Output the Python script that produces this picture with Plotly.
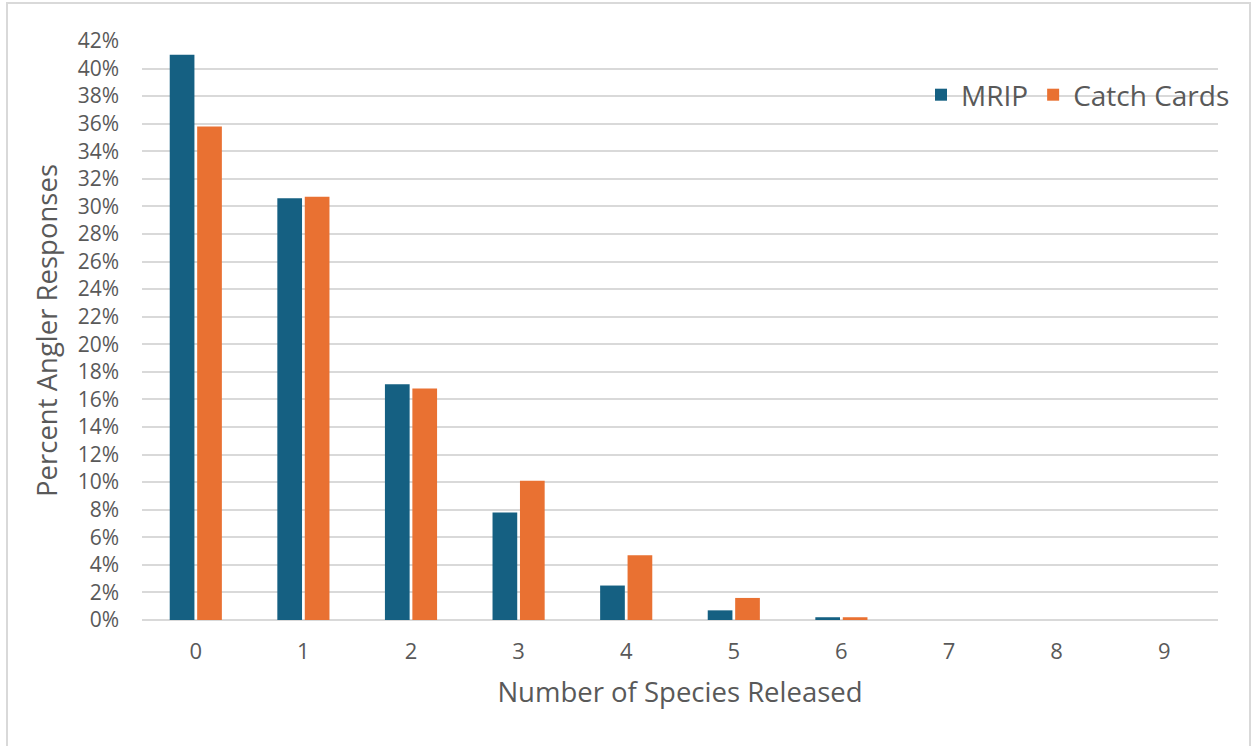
import plotly.graph_objects as go

# Number of species released per trip
categories = ["0", "1", "2", "3", "4", "5", "6", "7", "8", "9"]
mrip = [41.0, 30.6, 17.1, 7.8, 2.5, 0.7, 0.2, 0.0, 0.0, 0.0]
catch_cards = [35.8, 30.7, 16.8, 10.1, 4.7, 1.6, 0.2, 0.0, 0.0, 0.0]
y_ticks = list(range(0, 43, 2))
y_tick_labels = [f"{v}%" for v in y_ticks]

TEXT = "#595959"
GRID = "#D9D9D9"
FONT = "Open Sans"

fig = go.Figure()
fig.add_trace(go.Bar(name="MRIP", x=categories, y=mrip,
                     marker=dict(color="#156082", line=dict(width=0))))
fig.add_trace(go.Bar(name="Catch Cards", x=categories, y=catch_cards,
                     marker=dict(color="#E97132", line=dict(width=0))))

W, H = 1252, 746
L, R, T, B = 142, 34, 41, 126
pw = W - L - R
ph = H - T - B

def px_x(v):
    return (v - L) / pw

def px_y(v):
    return 1 - (v - T) / ph

fig.update_layout(
    width=W, height=H,
    margin=dict(l=L, r=R, t=T, b=B),
    paper_bgcolor="white", plot_bgcolor="white",
    font=dict(family=FONT, color=TEXT, size=21),
    barmode="group", bargap=0.49, bargroupgap=0.1,
    showlegend=True,
    legend=dict(orientation="h", x=px_x(921), y=px_y(95), xanchor="left", yanchor="middle",
                bgcolor="rgba(0,0,0,0)", font=dict(size=28, color=TEXT, family=FONT),
                itemsizing="constant", traceorder="normal"),
    xaxis=dict(type="category", range=[-0.5, 9.5], showgrid=False, showline=False,
               zeroline=False, ticks="", tickfont=dict(size=22, color=TEXT),
               ticklabelstandoff=16,
               title=dict(text="Number of Species Released", font=dict(size=27.5, color=TEXT),
                          standoff=18)),
    yaxis=dict(range=[0, 42], tickvals=y_ticks, ticktext=y_tick_labels,
               showgrid=True, gridcolor=GRID, gridwidth=1.5, zeroline=True,
               zerolinecolor=GRID, zerolinewidth=1.5, showline=False, ticks="",
               tickfont=dict(size=21, color=TEXT), ticklabelstandoff=22,
               title=dict(text="Percent Angler Responses", font=dict(size=27.5, color=TEXT),
                          standoff=12)),
    shapes=[
        # legend backdrop that hides the grid behind it
        dict(type="rect", xref="paper", yref="paper",
             x0=px_x(920), x1=px_x(1224), y0=px_y(165), y1=px_y(36),
             fillcolor="white", line=dict(width=0), layer="between"),
        # chart frame
        dict(type="rect", xref="paper", yref="paper",
             x0=px_x(7), x1=px_x(1250), y0=px_y(760), y1=px_y(3),
             fillcolor="rgba(0,0,0,0)", line=dict(color="#D9D9D9", width=2), layer="above"),
    ],
)

fig.write_html("out.html")
